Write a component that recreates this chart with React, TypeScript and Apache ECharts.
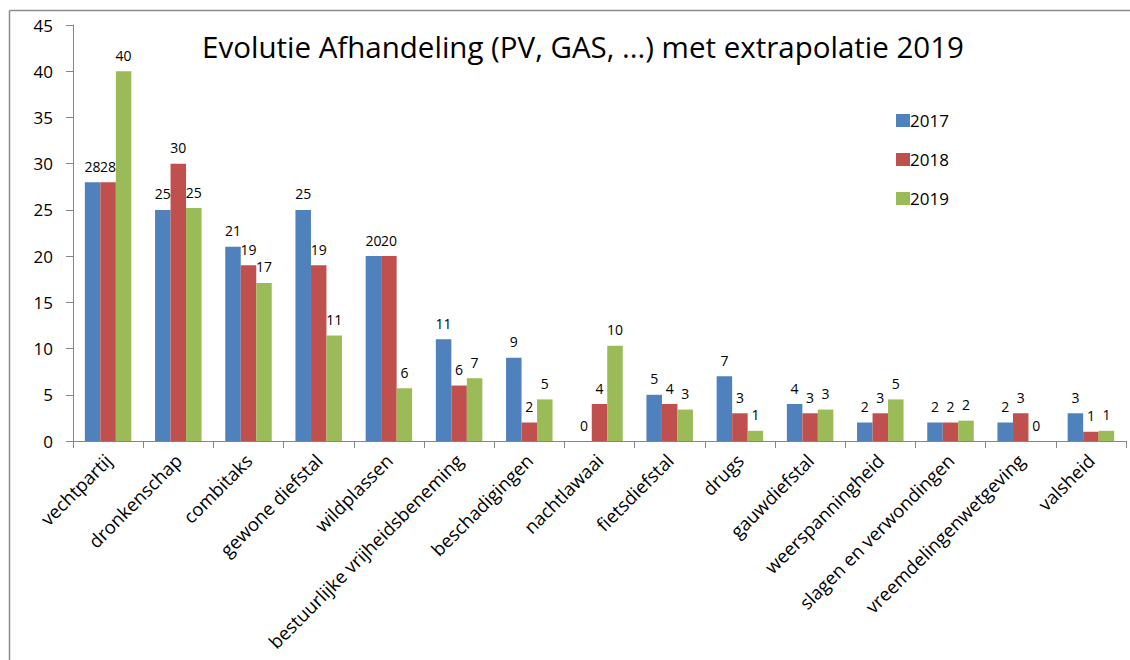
import React, { useEffect, useRef } from "react";
import * as echarts from "echarts";

const categories = [
  "vechtpartij",
  "dronkenschap",
  "combitaks",
  "gewone diefstal",
  "wildplassen",
  "bestuurlijke vrijheidsbeneming",
  "beschadigingen",
  "nachtlawaai",
  "fietsdiefstal",
  "drugs",
  "gauwdiefstal",
  "weerspanningheid",
  "slagen en verwondingen",
  "vreemdelingenwetgeving",
  "valsheid",
];
const values2017 = [28, 25, 21, 25, 20, 11, 9, 0, 5, 7, 4, 2, 2, 2, 3];
const values2018 = [28, 30, 19, 19, 20, 6, 2, 4, 4, 3, 3, 3, 2, 3, 1];
const values2019 = [40, 25.2, 17.1, 11.4, 5.7, 6.8, 4.5, 10.3, 3.4, 1.1, 3.4, 4.5, 2.2, 0, 1.1];
const seriesNames = ["2017", "2018", "2019"];
const colors = ["#4F81BD", "#C0504D", "#9BBB59"];
const titleText = "Evolutie Afhandeling (PV, GAS, ...) met extrapolatie 2019";

const FONT = "'Open Sans', Lato, sans-serif";

export default function App() {
  const ref = useRef<HTMLDivElement>(null);
  useEffect(() => {
    if (!ref.current) return;
    const chart = echarts.init(ref.current, null, { renderer: "svg" });
    const data = [values2017, values2018, values2019];
    chart.setOption({
      animation: false,
      backgroundColor: "#ffffff",
      textStyle: { fontFamily: FONT },
      title: {
        text: titleText,
        left: 578,
        textAlign: "center",
        top: 26,
        textStyle: { fontFamily: FONT, fontSize: 29.5, fontWeight: "normal", color: "#000" },
      },
      legend: {
        orient: "vertical",
        left: 891,
        top: 107,
        itemWidth: 14,
        itemHeight: 13,
        itemGap: 22,
        icon: "rect",
        textStyle: { fontFamily: FONT, fontSize: 17, lineHeight: 16, color: "#000", padding: [0, 0, 0, -5] },
        data: seriesNames,
      },
      grid: { left: 73, right: 4, top: 25, bottom: 219, containLabel: false },
      xAxis: {
        type: "category",
        data: categories,
        axisLine: { show: true, lineStyle: { color: "#868686", width: 1 } },
        axisTick: { show: true, length: 7, alignWithLabel: false, lineStyle: { color: "#868686" } },
        axisLabel: {
          rotate: 45,
          interval: 0,
          fontSize: 18.5,
          color: "#000",
          margin: 16,
          fontFamily: FONT,
        },
      },
      yAxis: {
        type: "value",
        min: 0,
        max: 45,
        interval: 5,
        splitLine: { show: false },
        axisLine: { show: true, lineStyle: { color: "#868686", width: 1 } },
        axisTick: { show: true, length: 7, lineStyle: { color: "#868686" } },
        axisLabel: { fontSize: 17, color: "#000", margin: 20, fontFamily: FONT },
      },
      graphic: [
        { type: "line", shape: { x1: 9.5, y1: 10.5, x2: 1130, y2: 10.5 }, style: { stroke: "#8c8c8c", lineWidth: 1.5 } },
        { type: "line", shape: { x1: 9.5, y1: 10.5, x2: 9.5, y2: 660 }, style: { stroke: "#8c8c8c", lineWidth: 1.5 } },
      ],
      series: seriesNames.map((name, i) => ({
        name,
        type: "bar",
        data: data[i],
        barWidth: 15.5,
        barGap: "0%",
        itemStyle: { color: colors[i] },
        label: {
          show: true,
          position: "top",
          distance: 9,
          fontSize: 14,
          color: "#000",
          fontFamily: FONT,
          formatter: (p: any) => String(Math.round(p.value)),
        },
      })),
    });
    return () => chart.dispose();
  }, []);
  return (
    <div
      ref={ref}
      style={{ position: "absolute", left: 0, top: 0, width: 1130, height: 660 }}
    />
  );
}
